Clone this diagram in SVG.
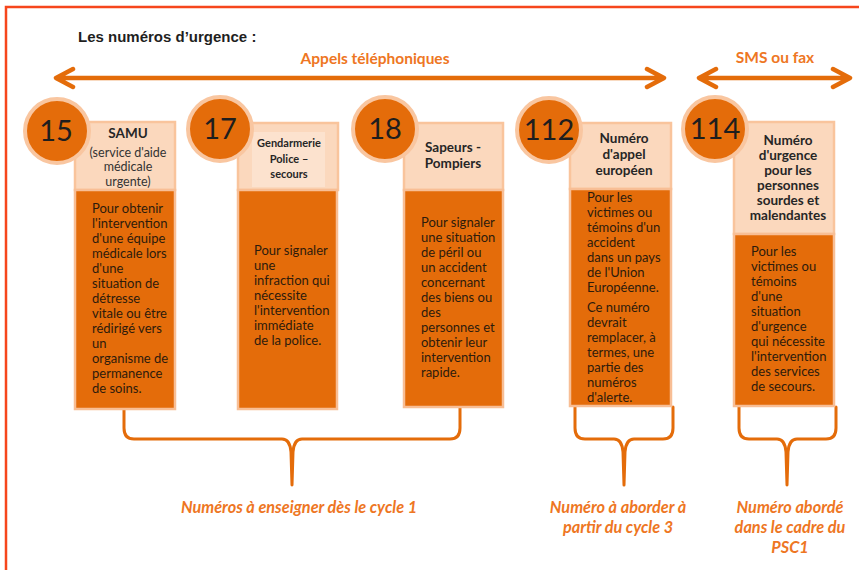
<svg xmlns="http://www.w3.org/2000/svg" width="859" height="570" viewBox="0 0 859 570">
<style>
.frame{fill:none;stroke:#F6461C;stroke-width:2.5}
.title{font-family:"Liberation Sans",Arial,sans-serif;font-weight:bold;font-size:15px;fill:#1f1f1f}
.lbl{font-family:Lato,"Open Sans",sans-serif;font-weight:bold;font-size:15.5px;fill:#EE7623}
.foot{font-family:Lato,"Open Sans",sans-serif;font-weight:bold;font-style:italic;font-size:16.3px;fill:#EE7623;text-anchor:middle}
.arrow{fill:none;stroke:#E46C0A;stroke-width:4.5;stroke-linecap:round;stroke-linejoin:round}
.brace{fill:none;stroke:#E46C0A;stroke-width:3;stroke-linecap:round;stroke-linejoin:round}
.circ{fill:#E46C0A;stroke:#F9C6A0;stroke-width:4}
.num{font-family:Lato,"Open Sans",sans-serif;font-size:29px;fill:#1e1e1e;text-anchor:middle}
.head{fill:#FBD8BD;stroke:#F9C49C;stroke-width:2.5}
.inner{fill:#FCE2CE}
.body{fill:#E46C0A;stroke:#F8BE95;stroke-width:2.5}
.ht{font-family:Lato,"Open Sans",sans-serif;font-weight:bold;font-size:13.5px;fill:#262626;text-anchor:middle}
.hs{font-family:Lato,"Open Sans",sans-serif;font-size:12.5px;fill:#333;text-anchor:middle}
.hsm{font-family:Lato,"Open Sans",sans-serif;font-weight:bold;font-size:11px;fill:#262626;text-anchor:middle}
.bt{font-family:Lato,"Open Sans",sans-serif;font-size:13px;fill:#2d1b0c}
</style>
<rect class="frame" x="6" y="7" width="870" height="580"/>
<text class="title" x="78" y="42">Les numéros d’urgence :</text>

<g id="connectors">
  <path class="arrow" d="M57,78 H663 M73,69 L56,78 L73,87 M647,69 L664,78 L647,87"/>
  <path class="arrow" d="M700,78 H849 M716,69 L699,78 L716,87 M833,69 L850,78 L833,87"/>
  <path class="brace" d="M124,410 V428 Q124,439 134,439 H282 Q290,439 291,452 L292,485 M460,408 V428 Q460,439 450,439 H302 Q294,439 293,452 L292,485"/>
  <path class="brace" d="M575,407 V428 Q575,439 585,439 H614 Q622,439 623,452 L624,485 M673,407 V428 Q673,439 663,439 H634 Q626,439 625,452 L624,485"/>
  <path class="brace" d="M739,407 V428 Q739,439 749,439 H777 Q785,439 786,452 L787,485 M836,407 V428 Q836,439 826,439 H797 Q789,439 788,452 L787,485"/>
</g>

<text class="lbl" x="375" y="64" text-anchor="middle">Appels téléphoniques</text>
<text class="lbl" x="775" y="63" text-anchor="middle">SMS ou fax</text>

<g id="n15">
  <rect class="head" x="75" y="122" width="100" height="68"/>
  <rect class="body" x="75" y="190" width="100" height="219"/>
  <circle class="circ" cx="57" cy="131" r="32"/>
  <text class="num" x="56" y="141">15</text>
  <text class="ht" x="128" y="138">SAMU</text>
  <text class="hs" x="128" y="157">(service d'aide</text>
  <text class="hs" x="128" y="171">médicale</text>
  <text class="hs" x="128" y="186">urgente)</text>
  <text class="bt" x="92" y="213">Pour obtenir</text>
  <text class="bt" x="92" y="228">l'intervention</text>
  <text class="bt" x="92" y="243">d'une équipe</text>
  <text class="bt" x="92" y="258">médicale lors</text>
  <text class="bt" x="92" y="273">d'une</text>
  <text class="bt" x="92" y="288">situation de</text>
  <text class="bt" x="92" y="303">détresse</text>
  <text class="bt" x="92" y="318">vitale ou être</text>
  <text class="bt" x="92" y="333">rédirigé vers</text>
  <text class="bt" x="92" y="348">un</text>
  <text class="bt" x="92" y="363">organisme de</text>
  <text class="bt" x="92" y="378">permanence</text>
  <text class="bt" x="92" y="393">de soins.</text>
</g>

<g id="n17">
  <rect class="head" x="238" y="123" width="100" height="67"/>
  <rect class="inner" x="252" y="132" width="73" height="55"/>
  <rect class="body" x="238" y="190" width="99" height="219"/>
  <circle class="circ" cx="220" cy="129" r="32"/>
  <text class="num" x="220" y="139">17</text>
  <text class="hsm" x="289" y="147">Gendarmerie</text>
  <text class="hsm" x="289" y="163">Police –</text>
  <text class="hsm" x="289" y="178">secours</text>
  <text class="bt" x="254" y="255">Pour signaler</text>
  <text class="bt" x="254" y="270">une</text>
  <text class="bt" x="254" y="285">infraction qui</text>
  <text class="bt" x="254" y="300">nécessite</text>
  <text class="bt" x="254" y="315">l'intervention</text>
  <text class="bt" x="254" y="330">immédiate</text>
  <text class="bt" x="254" y="345">de la police.</text>
</g>

<g id="n18">
  <rect class="head" x="404" y="123" width="99" height="67"/>
  <rect class="body" x="404" y="190" width="99" height="217"/>
  <circle class="circ" cx="385" cy="129" r="32"/>
  <text class="num" x="385" y="139">18</text>
  <text class="ht" x="453" y="152">Sapeurs -</text>
  <text class="ht" x="453" y="168">Pompiers</text>
  <text class="bt" x="421" y="227">Pour signaler</text>
  <text class="bt" x="421" y="242">une situation</text>
  <text class="bt" x="421" y="257">de péril ou</text>
  <text class="bt" x="421" y="272">un accident</text>
  <text class="bt" x="421" y="287">concernant</text>
  <text class="bt" x="421" y="302">des biens ou</text>
  <text class="bt" x="421" y="317">des</text>
  <text class="bt" x="421" y="332">personnes et</text>
  <text class="bt" x="421" y="347">obtenir leur</text>
  <text class="bt" x="421" y="362">intervention</text>
  <text class="bt" x="421" y="377">rapide.</text>
</g>

<g id="n112">
  <rect class="head" x="570" y="123" width="101" height="66"/>
  <rect class="body" x="570" y="189" width="101" height="217"/>
  <circle class="circ" cx="549" cy="130" r="32"/>
  <text class="num" x="549" y="140">112</text>
  <text class="ht" x="624" y="143">Numéro</text>
  <text class="ht" x="624" y="159">d'appel</text>
  <text class="ht" x="624" y="175">européen</text>
  <text class="bt" x="587" y="202">Pour les</text>
  <text class="bt" x="587" y="217">victimes ou</text>
  <text class="bt" x="587" y="232">témoins d'un</text>
  <text class="bt" x="587" y="247">accident</text>
  <text class="bt" x="587" y="262">dans un pays</text>
  <text class="bt" x="587" y="277">de l'Union</text>
  <text class="bt" x="587" y="292">Européenne.</text>
  <text class="bt" x="587" y="312">Ce numéro</text>
  <text class="bt" x="587" y="327">devrait</text>
  <text class="bt" x="587" y="342">remplacer, à</text>
  <text class="bt" x="587" y="357">termes, une</text>
  <text class="bt" x="587" y="372">partie des</text>
  <text class="bt" x="587" y="387">numéros</text>
  <text class="bt" x="587" y="402">d'alerte.</text>
</g>

<g id="n114">
  <rect class="head" x="734" y="122" width="100" height="112"/>
  <rect class="body" x="734" y="234" width="100" height="172"/>
  <circle class="circ" cx="715" cy="129" r="32"/>
  <text class="num" x="715" y="139">114</text>
  <text class="ht" x="788" y="145">Numéro</text>
  <text class="ht" x="788" y="160">d'urgence</text>
  <text class="ht" x="788" y="175">pour les</text>
  <text class="ht" x="788" y="190">personnes</text>
  <text class="ht" x="788" y="205">sourdes et</text>
  <text class="ht" x="788" y="220">malendantes</text>
  <text class="bt" x="751" y="256">Pour les</text>
  <text class="bt" x="751" y="271">victimes ou</text>
  <text class="bt" x="751" y="286">témoins</text>
  <text class="bt" x="751" y="301">d'une</text>
  <text class="bt" x="751" y="316">situation</text>
  <text class="bt" x="751" y="331">d'urgence</text>
  <text class="bt" x="751" y="346">qui nécessite</text>
  <text class="bt" x="751" y="361">l'intervention</text>
  <text class="bt" x="751" y="376">des services</text>
  <text class="bt" x="751" y="391">de secours.</text>
</g>

<text class="foot" x="299" y="513">Numéros à enseigner dès le cycle 1</text>
<text class="foot" x="618" y="513">Numéro à aborder à</text>
<text class="foot" x="618" y="533">partir du cycle 3</text>
<text class="foot" x="790" y="513">Numéro abordé</text>
<text class="foot" x="790" y="533">dans le cadre du</text>
<text class="foot" x="790" y="553">PSC1</text>
</svg>
